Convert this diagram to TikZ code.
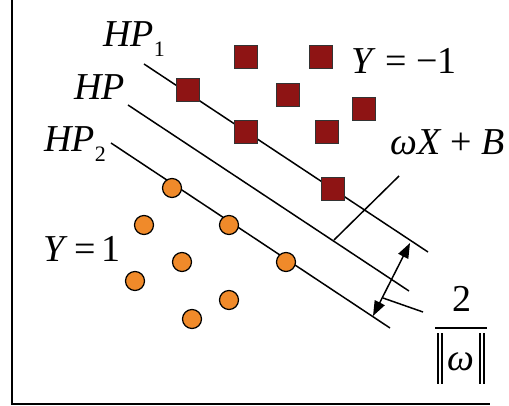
\documentclass[tikz,border=0pt]{standalone}
\usepackage{fontspec}
\setmainfont{Liberation Serif}
\usetikzlibrary{arrows.meta}
\definecolor{sqred}{HTML}{8E1414}
\definecolor{dotorange}{HTML}{F08A2A}
\newcommand{\subtxt}[1]{\raisebox{-10pt}{\fontsize{22}{24}\selectfont #1}}
\tikzset{
  sq/.style={rectangle, draw=black!80, line width=1.2pt, fill=sqred, minimum size=23pt, inner sep=0pt},
  dot/.style={circle, draw=black, line width=1.2pt, fill=dotorange, minimum size=19pt, inner sep=0pt},
  hp/.style={line width=1.5pt},
  lbl/.style={inner sep=0pt, font=\fontsize{38}{40}\selectfont},
}
\begin{document}
\begin{tikzpicture}[x=1pt,y=-1pt]
\useasboundingbox (0,0) rectangle (509,406);
% axes
\coordinate (top) at (12,0);
\coordinate (orig) at (12,404);
\coordinate (xend) at (490,404);
\draw[line width=1.6pt] (top) -- (orig) -- (xend);
% hyperplanes
\coordinate (h1a) at (144,64);  \coordinate (h1b) at (428,252);
\coordinate (ha)  at (128,105); \coordinate (hb)  at (409,291);
\coordinate (h2a) at (111,143); \coordinate (h2b) at (390,328);
\draw[hp] (h1a) -- (h1b);
\draw[hp] (ha) -- (hb);
\draw[hp] (h2a) -- (h2b);
% label line for wX+B
\coordinate (wl1) at (399,176); \coordinate (wl2) at (334,240);
\draw[hp] (wl1) -- (wl2);
% margin arrow
\coordinate (ar1) at (410,243); \coordinate (ar2) at (373,316);
\draw[line width=1.5pt, {Triangle[length=15pt,width=11pt]}-{Triangle[length=15pt,width=11pt]}] (ar2) -- (ar1);
\coordinate (ml1) at (383,298); \coordinate (ml2) at (423,312);
\draw[hp] (ml1) -- (ml2);
% squares
\node[sq] (s1) at (246,57) {};
\node[sq] (s2) at (321,57) {};
\node[sq] (s3) at (188,90) {};
\node[sq] (s4) at (288,95) {};
\node[sq] (s5) at (364,109) {};
\node[sq] (s6) at (246,132) {};
\node[sq] (s7) at (327,132) {};
\node[sq] (s8) at (333,189) {};
% circles
\node[dot] (c1) at (172,188) {};
\node[dot] (c2) at (144,225) {};
\node[dot] (c3) at (229,225) {};
\node[dot] (c4) at (182,262) {};
\node[dot] (c5) at (286,262) {};
\node[dot] (c6) at (135,281) {};
\node[dot] (c7) at (229,300) {};
\node[dot] (c8) at (192,319) {};
% labels
\node[lbl, anchor=base west] (thp1) at (103,47) {\textit{HP}\subtxt{1}};
\node[lbl, anchor=base west] (thp) at (74,100) {\textit{HP}};
\node[lbl, anchor=base west] (thp2) at (44,152) {\textit{HP}\subtxt{2}};
\node[lbl, anchor=base west] (tym) at (351,74) {\textit{Y} = −1};
\node[lbl, anchor=base west] (typ) at (43,262) {\textit{Y}\,=\,1};
\node[lbl, anchor=base west] (twx) at (390,155) {\textit{ωX} + \textit{B}};
% fraction
\node[lbl, anchor=base] (two) at (462,312) {2};
\coordinate (fb1) at (435,328); \coordinate (fb2) at (487,328);
\draw[line width=1.2pt] (fb1) -- (fb2);
\node[lbl, anchor=base] (om) at (461,370) {\textit{ω}};
\coordinate (n1a) at (438,333); \coordinate (n1b) at (438,384);
\coordinate (n2a) at (442,333); \coordinate (n2b) at (442,384);
\coordinate (n3a) at (480,333); \coordinate (n3b) at (480,384);
\coordinate (n4a) at (484,333); \coordinate (n4b) at (484,384);
\draw[line width=1.1pt] (n1a) -- (n1b) (n2a) -- (n2b) (n3a) -- (n3b) (n4a) -- (n4b);
\end{tikzpicture}
\end{document}
